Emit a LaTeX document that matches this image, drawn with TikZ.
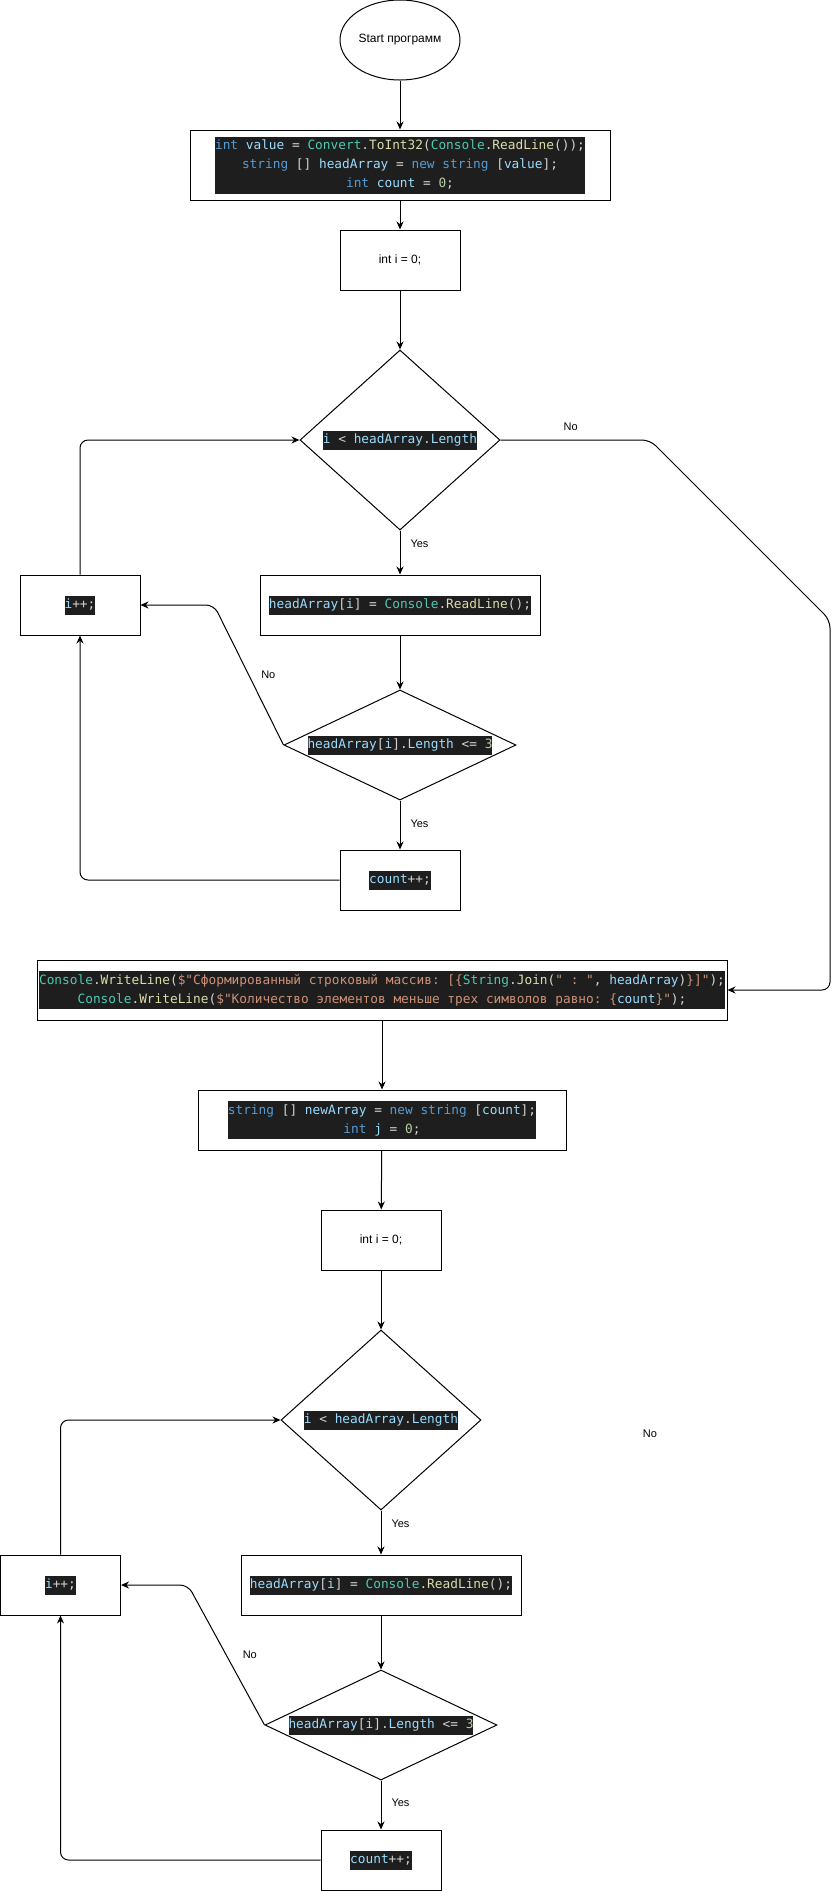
\documentclass[tikz,border=0pt]{standalone}
\usepackage{fontspec}
\setmainfont{Liberation Sans}
\setmonofont{DejaVu Sans Mono}
\usetikzlibrary{shapes.geometric,arrows.meta}

\definecolor{codebg}{HTML}{1E1E1E}
\definecolor{codefg}{HTML}{D4D4D4}
\definecolor{kwblue}{HTML}{569CD6}
\definecolor{varblue}{HTML}{9CDCFE}
\definecolor{clsteal}{HTML}{4EC9B0}
\definecolor{fnyellow}{HTML}{DCDCAA}
\definecolor{numgreen}{HTML}{B5CEA8}
\definecolor{strorange}{HTML}{CE9178}

\newcommand{\ckw}[1]{\textcolor{kwblue}{#1}}
\newcommand{\cvar}[1]{\textcolor{varblue}{#1}}
\newcommand{\ccls}[1]{\textcolor{clsteal}{#1}}
\newcommand{\cfn}[1]{\textcolor{fnyellow}{#1}}
\newcommand{\cnum}[1]{\textcolor{numgreen}{#1}}
\newcommand{\cstr}[1]{\textcolor{strorange}{#1}}
\newcommand{\codeblock}[1]{{\setlength{\fboxsep}{0pt}\colorbox{codebg}{\color{codefg}\ttfamily\fontsize{12.8}{19}\selectfont\begin{tabular}{@{}c@{}}#1\end{tabular}}}}
\newcommand{\codeinline}[1]{\makebox[0pt]{\codeblock{#1}}}

\begin{document}
\begin{tikzpicture}[x=1pt, y=-1pt, line width=1pt,
  startnode/.style={ellipse, draw, minimum width=120pt, minimum height=80pt, inner sep=0pt, font=\fontsize{12}{14}\selectfont},
  procbox/.style={rectangle, draw, minimum height=60pt, inner sep=0pt, font=\fontsize{12}{14}\selectfont},
  decision/.style={diamond, draw, inner sep=0pt},
  flow/.style={-{Stealth[length=8pt,width=7pt]}, rounded corners=8pt},
  answer/.style={font=\fontsize{11}{13}\selectfont, inner sep=2pt}]
\useasboundingbox (0,0) rectangle (840,1891);

% first pass: read the strings
\node[startnode] (start) at (400,40) {Start программ};
\node[procbox, minimum width=420pt, minimum height=70pt] (init) at (400,165) {\codeblock{%
  \ckw{int} \cvar{value} = \ccls{Convert}.\cfn{ToInt32}(\ccls{Console}.\cfn{ReadLine}());\\
  \ckw{string} [] \cvar{headArray} = \ckw{new} \ckw{string} [\cvar{value}];\\
  \ckw{int} \cvar{count} = \cnum{0};}};
\node[procbox, minimum width=120pt] (loopa) at (400,260) {int i = 0;};
\node[decision, minimum width=200pt, minimum height=180pt] (conda) at (400,440) {\codeinline{\cvar{i} < \cvar{headArray}.\cvar{Length}}};
\node[procbox, minimum width=280pt] (reada) at (400,605) {\codeblock{\cvar{headArray}[\cvar{i}] = \ccls{Console}.\cfn{ReadLine}();}};
\node[procbox, minimum width=120pt] (inca) at (80,605) {\codeblock{\cvar{i}++;}};
\node[decision, minimum width=232pt, minimum height=110pt] (checka) at (400,745) {\codeinline{\cvar{headArray}[\cvar{i}].\cvar{Length} <= \cnum{3}}};
\node[procbox, minimum width=120pt] (counta) at (400,880) {\codeblock{\cvar{count}++;}};

% output
\node[procbox, minimum width=690pt] (print) at (382,990) {\codeblock{%
  \ccls{Console}.\cfn{WriteLine}(\cstr{\$"Сформированный строковый массив: [\{}\ccls{String}.\cfn{Join}(\cstr{" : "}, \cvar{headArray})\cstr{\}]"});\\
  \ccls{Console}.\cfn{WriteLine}(\cstr{\$"Количество элементов меньше трех символов равно: \{}\cvar{count}\cstr{\}"});}};

% second pass: new array
\node[procbox, minimum width=368pt] (newarr) at (382,1120) {\codeblock{%
  \ckw{string} [] \cvar{newArray} = \ckw{new} \ckw{string} [\cvar{count}];\\
  \ckw{int} \cvar{j} = \cnum{0};}};
\node[procbox, minimum width=120pt] (loopb) at (381,1240) {int i = 0;};
\node[decision, minimum width=200pt, minimum height=180pt] (condb) at (381,1420) {\codeinline{\cvar{i} < \cvar{headArray}.\cvar{Length}}};
\node[procbox, minimum width=280pt] (readb) at (381,1585) {\codeblock{\cvar{headArray}[\cvar{i}] = \ccls{Console}.\cfn{ReadLine}();}};
\node[procbox, minimum width=120pt] (incb) at (60.5,1585) {\codeblock{\cvar{i}++;}};
\node[decision, minimum width=232pt, minimum height=110pt] (checkb) at (381,1725) {\codeinline{\cvar{headArray}[\cvar{i}].\cvar{Length} <= \cnum{3}}};
\node[procbox, minimum width=120pt] (countb) at (381,1860) {\codeblock{\cvar{count}++;}};
\node[answer] (nolone) at (650,1434) {No};

\coordinate (benda) at (214,605);
\coordinate (bendb) at (188,1585);
\coordinate (exita) at (650,440);
\coordinate (exitb) at (830,620);
\coordinate (exitc) at (830,990);

\draw[flow] (start) -- (init);
\draw[flow] (init) -- (loopa);
\draw[flow] (loopa) -- (conda);
\draw[flow] (conda) -- node[answer, right=8pt, pos=0.31] {Yes} (reada);
\draw[flow] (reada) -- (checka);
\draw[flow] (checka) -- node[answer, right=8pt, pos=0.48] {Yes} (counta);
\draw[flow] (counta) -| (inca);
\draw[flow] (inca) |- (conda);
\draw[flow] (checka.west) -- node[answer, right=10pt] {No} (benda) -- (inca);
\draw[flow] (conda) -- node[answer, above=7pt, pos=0.47] {No} (exita) -- (exitb) -- (exitc) -- (print);

\draw[flow] (print) -- (newarr);
\draw[flow] (newarr) -- (loopb);
\draw[flow] (loopb) -- (condb);
\draw[flow] (condb) -- node[answer, right=8pt, pos=0.29] {Yes} (readb);
\draw[flow] (readb) -- (checkb);
\draw[flow] (checkb) -- node[answer, right=8pt, pos=0.46] {Yes} (countb);
\draw[flow] (countb) -| (incb);
\draw[flow] (incb) |- (condb);
\draw[flow] (checkb.west) -- node[answer, right=14pt] {No} (bendb) -- (incb);
\end{tikzpicture}
\end{document}
